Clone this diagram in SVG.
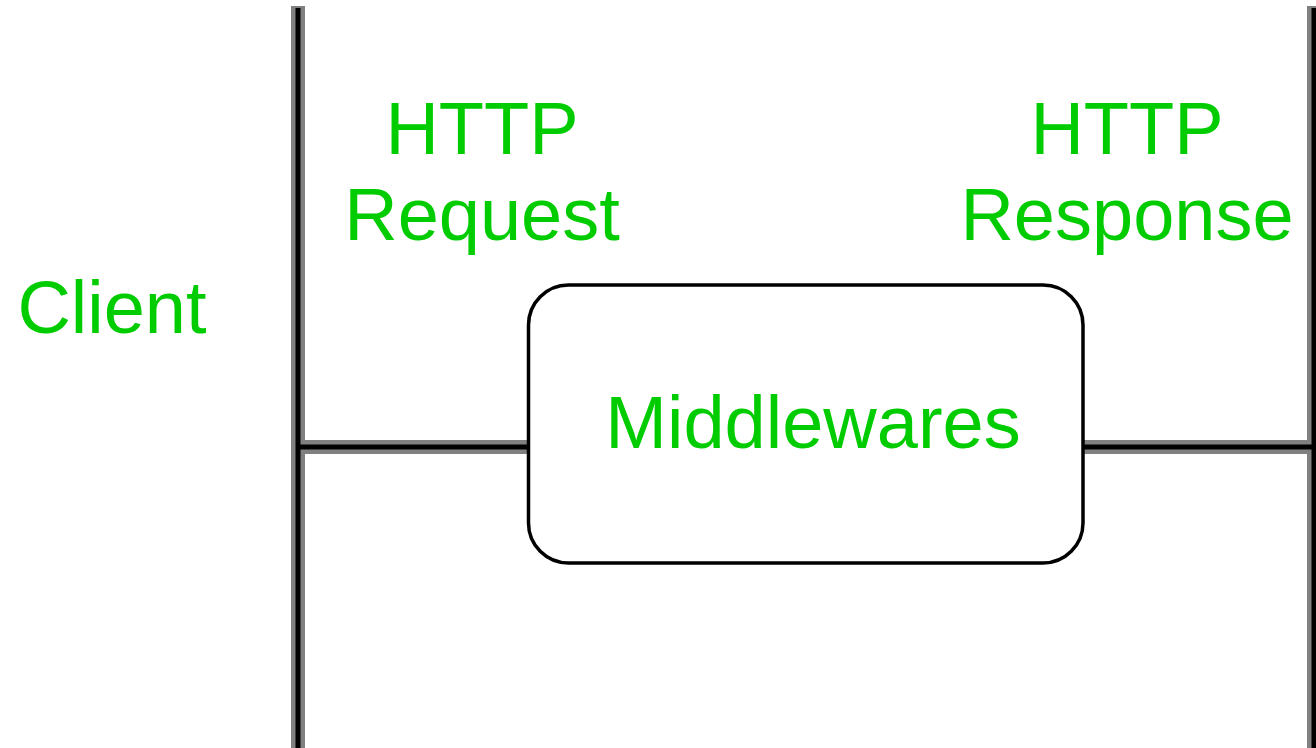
<svg xmlns="http://www.w3.org/2000/svg" width="1316" height="748" viewBox="0 0 1316 748">
<style>
.t{font-family:"Liberation Sans",Arial,sans-serif;font-size:74px;fill:#00cc00;text-anchor:middle}
.lo{stroke:#808080;stroke-width:14;fill:none}
.li{stroke:#000;stroke-width:5;fill:none}
</style>
<rect width="1316" height="748" fill="#fff"/>
<g id="connectors">
<line class="lo" x1="298" y1="6" x2="298" y2="748"/>
<line class="lo" x1="1314" y1="6" x2="1314" y2="748"/>
<line class="lo" x1="298" y1="447" x2="528" y2="447"/>
<line class="lo" x1="1083" y1="447" x2="1316" y2="447"/>
<line class="li" x1="298" y1="8" x2="298" y2="748"/>
<line class="li" x1="1314" y1="8" x2="1314" y2="748"/>
<line class="li" x1="298" y1="447" x2="528" y2="447"/>
<line class="li" x1="1083" y1="447" x2="1316" y2="447"/>
</g>
<g id="client"><text class="t" x="112" y="333">Client</text></g>
<g id="request"><text class="t" x="482" y="154">HTTP</text><text class="t" x="482" y="240">Request</text></g>
<g id="response"><text class="t" x="1127" y="154">HTTP</text><text class="t" x="1127" y="240">Response</text></g>
<g id="middlewares">
<rect x="528.5" y="285" width="554.5" height="278" rx="40" ry="40" fill="#fff" stroke="#000" stroke-width="3.5"/>
<text class="t" x="813" y="448">Middlewares</text>
</g>
</svg>
